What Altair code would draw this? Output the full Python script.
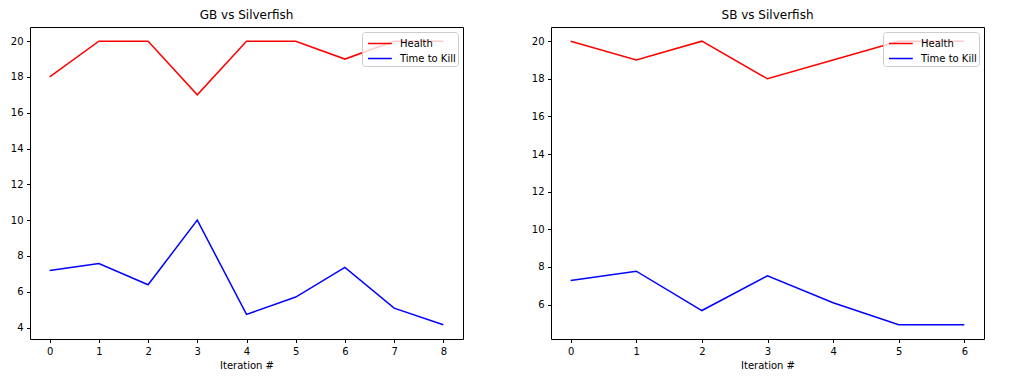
import altair as alt
import pandas as pd

# ---- data ----
gb_iter = [0, 1, 2, 3, 4, 5, 6, 7, 8]
gb_health = [18, 20, 20, 17, 20, 20, 19, 20, 20]
gb_ttk = [7.19, 7.58, 6.39, 10.0, 4.73, 5.70, 7.36, 5.08, 4.15]

sb_iter = [0, 1, 2, 3, 4, 5, 6]
sb_health = [20, 19, 20, 18, 19, 20, 20]
sb_ttk = [7.28, 7.77, 5.68, 7.53, 6.09, 4.92, 4.92]

series_names = ["Health", "Time to Kill"]
series_colors = ["red", "blue"]
titles = ["GB vs Silverfish", "SB vs Silverfish"]
x_label = "Iteration #"

FONT = "DejaVu Sans"


def make_df(iters, health, ttk):
    rows = []
    for i, v in zip(iters, health):
        rows.append({"iter": i, "value": v, "series": series_names[0]})
    for i, v in zip(iters, ttk):
        rows.append({"iter": i, "value": v, "series": series_names[1]})
    return pd.DataFrame(rows)


def margin_domain(vals, frac=0.05):
    lo, hi = min(vals), max(vals)
    pad = (hi - lo) * frac
    return [lo - pad, hi + pad]


def panel(iters, health, ttk, title, yticks):
    df = make_df(iters, health, ttk)
    xdom = margin_domain(iters)
    ydom = margin_domain(health + ttk)
    return (
        alt.Chart(df, title=alt.Title(title, fontSize=12, fontWeight="normal",
                                      font=FONT, color="black", offset=5))
        .mark_line(strokeWidth=1.5)
        .encode(
            x=alt.X("iter:Q",
                    scale=alt.Scale(domain=xdom, nice=False, zero=False),
                    axis=alt.Axis(values=iters, title=x_label, format="d",
                                  grid=False, domain=False,
                                  titleFontWeight="normal")),
            y=alt.Y("value:Q",
                    scale=alt.Scale(domain=ydom, nice=False, zero=False),
                    axis=alt.Axis(values=yticks, title=None, format="d",
                                  grid=False, domain=False)),
            color=alt.Color("series:N",
                            scale=alt.Scale(domain=series_names, range=series_colors),
                            legend=alt.Legend(title=None, orient="top-right", offset=5,
                                              symbolType="M-0.65,0H2.15",
                                              symbolSize=289,
                                              symbolStrokeWidth=1.5,
                                              labelFontSize=10, labelFont=FONT,
                                              labelColor="black", labelOffset=17,
                                              rowPadding=0,
                                              padding=2,
                                              fillColor="rgba(255,255,255,0.8)",
                                              strokeColor="#cccccc",
                                              cornerRadius=3)),
            detail="series:N",
        )
        .properties(width=433, height=312)
    )


left = panel(gb_iter, gb_health, gb_ttk, titles[0], list(range(4, 21, 2)))
right = panel(sb_iter, sb_health, sb_ttk, titles[1], list(range(6, 21, 2)))

chart = (
    alt.hconcat(left, right, spacing=66)
    .resolve_legend(color="independent")
    .resolve_scale(color="independent")
    .properties(padding={"left": 1, "top": 0, "right": 5, "bottom": 5},
                background="white")
    .configure_view(stroke="black", strokeWidth=1)
    .configure_axis(labelFont=FONT, labelFontSize=10, labelColor="black",
                    tickColor="black", tickSize=3.5, labelPadding=3.5,
                    domain=False, grid=False, titleFont=FONT, titleFontSize=10,
                    titleFontWeight="normal", titleColor="black", titlePadding=4)
)

chart.save("out.html", embed_options={"renderer": "svg", "actions": False})
